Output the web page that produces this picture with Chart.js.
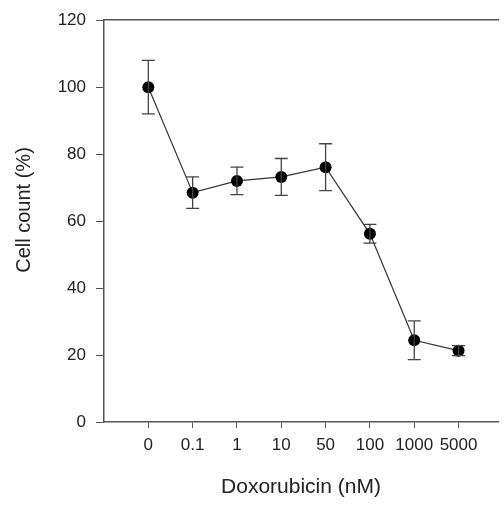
<!DOCTYPE html>
<html>
<head>
<meta charset="utf-8">
<script src="https://cdn.jsdelivr.net/npm/chart.js@4/dist/chart.umd.min.js"></script>
<style>
html,body{margin:0;padding:0;background:#fff;overflow:hidden;}
#wrap{width:504px;height:507px;position:relative;}
</style>
</head>
<body>
<div id="wrap"><canvas id="c" width="504" height="507"></canvas></div>
<script>
const categories = ['0', '0.1', '1', '10', '50', '100', '1000', '5000'];
const cellCount = [100, 68.5, 72, 73.2, 76.1, 56.2, 24.4, 21.3];
const errorSD = [8, 4.7, 4.1, 5.5, 7, 2.8, 5.8, 1.5];
const yTicks = [0, 20, 40, 60, 80, 100, 120];

const axisColor = '#555';
const textColor = '#222';
const fontFamily = '"Liberation Sans", Arial, sans-serif';

const errorBars = {
  id: 'errorBars',
  afterDatasetsDraw(chart) {
    const {ctx, scales: {x, y}} = chart;
    ctx.save();
    ctx.strokeStyle = '#444';
    ctx.lineWidth = 1.3;
    cellCount.forEach((v, i) => {
      const px = x.getPixelForValue(i);
      const top = y.getPixelForValue(v + errorSD[i]);
      const bot = y.getPixelForValue(v - errorSD[i]);
      const cap = 6.5;
      ctx.beginPath();
      ctx.moveTo(px, top); ctx.lineTo(px, bot);
      ctx.moveTo(px - cap, top); ctx.lineTo(px + cap, top);
      ctx.moveTo(px - cap, bot); ctx.lineTo(px + cap, bot);
      ctx.stroke();
    });
    ctx.restore();
  }
};

new Chart(document.getElementById('c'), {
  type: 'line',
  data: {
    datasets: [{
      data: cellCount.map((v, i) => ({x: i, y: v})),
      borderColor: '#333',
      borderWidth: 1.2,
      pointRadius: 6,
      pointBackgroundColor: '#000',
      pointBorderColor: '#000',
      pointBorderWidth: 0,
      tension: 0
    }]
  },
  options: {
    responsive: false,
    animation: false,
    layout: {padding: 0},
    plugins: {legend: {display: false}, tooltip: {enabled: false}},
    scales: {
      x: {
        type: 'linear',
        position: 'bottom',
        min: -1,
        max: 7.89,
        afterBuildTicks(scale) {
          scale.ticks = categories.map((c, i) => ({value: i}));
        },
        afterFit(scale) { scale.height = 85; },
        grid: {display: true, drawOnChartArea: false, drawTicks: true, tickLength: 6, color: axisColor, lineWidth: 1},
        border: {display: true, color: axisColor, width: 1.5},
        ticks: {
          color: textColor,
          padding: 7,
          maxRotation: 0,
          autoSkip: false,
          font: {family: fontFamily, size: 17},
          callback: (val) => categories[val]
        },
        title: {
          display: true,
          text: 'Doxorubicin (nM)',
          color: textColor,
          font: {family: fontFamily, size: 21},
          padding: {top: 0, bottom: 7}
        }
      },
      xTop: {
        type: 'linear',
        position: 'top',
        min: -1,
        max: 7.89,
        afterFit(scale) { scale.height = 16; },
        grid: {display: false},
        border: {display: true, color: axisColor, width: 1.5},
        ticks: {display: false}
      },
      y: {
        type: 'linear',
        min: 0,
        max: 120,
        afterBuildTicks(scale) {
          scale.ticks = yTicks.map(v => ({value: v}));
        },
        afterFit(scale) { scale.width = 104; },
        grid: {display: true, drawOnChartArea: false, drawTicks: true, tickLength: 8, color: axisColor, lineWidth: 1},
        border: {display: true, color: axisColor, width: 1.5},
        ticks: {
          color: textColor,
          padding: 10,
          font: {family: fontFamily, size: 17}
        },
        title: {
          display: true,
          text: '    Cell count (%)',
          color: textColor,
          font: {family: fontFamily, size: 20},
          padding: {top: 12, bottom: 0}
        }
      }
    }
  },
  plugins: [errorBars]
});
</script>
</body>
</html>
